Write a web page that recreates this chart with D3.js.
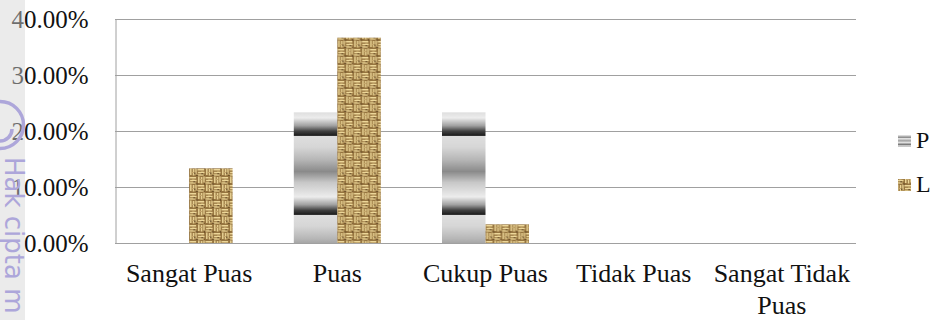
<!DOCTYPE html>
<html>
<head>
<meta charset="utf-8">
<script src="https://cdn.jsdelivr.net/npm/d3@7"></script>
<style>
  html, body { margin: 0; padding: 0; background: #fff; }
  svg { display: block; }
  .serif { font-family: "Liberation Serif", "Times New Roman", Tinos, "DejaVu Serif", serif; }
</style>
</head>
<body>
<svg id="chart" width="933" height="320"></svg>
<script>
// Survey satisfaction levels and share of respondents per group
const categories = ["Sangat Puas", "Puas", "Cukup Puas", "Tidak Puas", "Sangat Tidak Puas"];
const seriesNames = ["P", "L"];
const valuesP = [0, 0.2333, 0.2333, 0, 0];
const valuesL = [0.1333, 0.3667, 0.0333, 0, 0];
const yTicks = [0, 0.1, 0.2, 0.3, 0.4];

const svg = d3.select("#chart");
const W = 933, H = 320;
const plot = { left: 115, right: 856, top: 19, bottom: 243 };

svg.append("rect").attr("width", W).attr("height", H).attr("fill", "#fff");

const defs = svg.append("defs");

// Banded grey shading for series P (vertical gradient repeated every 79px)
const gradP = defs.append("linearGradient").attr("id", "gradP")
  .attr("x1", 0).attr("y1", 0).attr("x2", 0).attr("y2", 1);
[[0, "#dedede"], [0.14, "#d6d6d6"], [0.30, "#b6b6b6"], [0.45, "#8a8a8a"],
 [0.59, "#c8c8c8"], [0.77, "#ececec"], [0.87, "#a0a0a0"], [0.94, "#404040"],
 [0.985, "#222222"], [1, "#3a3a3a"]]
  .forEach(([o, c]) => gradP.append("stop").attr("offset", o).attr("stop-color", c));
const patP = defs.append("pattern").attr("id", "patP")
  .attr("patternUnits", "userSpaceOnUse")
  .attr("x", 0).attr("y", 57).attr("width", 50).attr("height", 79);
patP.append("rect").attr("width", 50).attr("height", 79).attr("fill", "url(#gradP)");

// Legend swatch for P: a few thin grey bands
const gradPL = defs.append("linearGradient").attr("id", "gradPL")
  .attr("x1", 0).attr("y1", 0).attr("x2", 0).attr("y2", 1);
[[0, "#f0f0f0"], [0.2, "#888"], [0.3, "#e8e8e8"], [0.5, "#999"], [0.6, "#eee"],
 [0.8, "#777"], [0.9, "#ddd"], [1, "#bbb"]]
  .forEach(([o, c]) => gradPL.append("stop").attr("offset", o).attr("stop-color", c));

// Burlap weave texture for series L
const patL = defs.append("pattern").attr("id", "patL")
  .attr("patternUnits", "userSpaceOnUse")
  .attr("x", 0).attr("y", 0).attr("width", 16).attr("height", 16);
patL.append("rect").attr("width", 16).attr("height", 16).attr("fill", "#96743f");
const thread = "#ecd698";
const weave = [
  // horizontal threads in top-left and bottom-right cells
  [0.5, 1, 6.5, 1.5], [1, 3.8, 6.5, 1.5], [0.5, 6.3, 6, 1.3],
  [8.5, 9, 6.5, 1.5], [9, 11.8, 6.5, 1.5], [8.5, 14.3, 6, 1.3],
  // vertical threads in top-right and bottom-left cells
  [9, 0.5, 1.5, 6.5], [11.8, 1, 1.5, 6.5], [14.3, 0.5, 1.3, 6],
  [1, 8.5, 1.5, 6.5], [3.8, 9, 1.5, 6.5], [6.3, 8.5, 1.3, 6]
];
weave.forEach(([x, y, w, h]) => patL.append("rect")
  .attr("x", x).attr("y", y).attr("width", w).attr("height", h).attr("fill", thread));
[[3, 2.6, "#cfb373"], [12, 10.6, "#cfb373"], [10.6, 3, "#c4a66a"], [2.6, 12, "#c4a66a"]]
  .forEach(([x, y, c]) => patL.append("rect").attr("x", x).attr("y", y)
    .attr("width", 2.5).attr("height", 1).attr("fill", c));
[[7.4, 7.4], [15.4, 15.2], [7.4, 15], [15, 7.4], [4.5, 5.2], [12.5, 13.1], [5.2, 12.6]]
  .forEach(([x, y]) => patL.append("rect").attr("x", x).attr("y", y)
    .attr("width", 1.2).attr("height", 1.2).attr("fill", "#4e361a"));

const softBlur = defs.append("filter").attr("id", "soft");
softBlur.append("feGaussianBlur").attr("stdDeviation", 0.35);

// Scales
const y = d3.scaleLinear().domain([0, 0.4]).range([plot.bottom, plot.top]);
const x0 = d3.scaleBand().domain(categories).range([plot.left, plot.right]).padding(0);
const groupW = 87;
const x1 = d3.scaleBand().domain(seriesNames).range([-groupW / 2, groupW / 2]).padding(0);

// Gridlines
svg.append("g").selectAll("line").data(yTicks).join("line")
  .attr("x1", plot.left).attr("x2", plot.right)
  .attr("y1", d => Math.round(y(d)) + 0.5).attr("y2", d => Math.round(y(d)) + 0.5)
  .attr("stroke", "#a0a0a0").attr("stroke-width", 1);

// Y axis (labels and left rule)
const yAxis = svg.append("g").attr("transform", `translate(${plot.left + 0.5},0)`)
  .call(d3.axisLeft(y).tickValues(yTicks).tickFormat(d3.format(".2%"))
    .tickSize(0).tickSizeOuter(0).tickPadding(27));
yAxis.attr("font-family", null).attr("font-size", null);
yAxis.select(".domain").attr("stroke", "#a0a0a0");
yAxis.selectAll("text").attr("class", "serif").style("font-size", "25px")
  .attr("fill", "#111").attr("dy", "0.34em");

// Bars
const rows = categories.map((c, i) => ({ cat: c, P: valuesP[i], L: valuesL[i] }));
const fills = { P: "url(#patP)", L: "url(#patL)" };
const groups = svg.append("g").selectAll("g").data(rows).join("g")
  .attr("transform", d => `translate(${x0(d.cat) + x0.bandwidth() / 2},0)`);
groups.selectAll("rect")
  .data(d => seriesNames.map(k => ({ key: k, value: d[k] })).filter(e => e.value > 0))
  .join("rect")
  .attr("x", d => x1(d.key))
  .attr("width", x1.bandwidth())
  .attr("y", d => y(d.value))
  .attr("height", d => y(0) - y(d.value))
  .attr("fill", d => fills[d.key])
  .attr("filter", d => d.key === "L" ? "url(#soft)" : null);

// Category labels, wrapped to the band width
const catLabels = svg.append("g").selectAll("text").data(categories).join("text")
  .attr("class", "serif")
  .attr("x", d => x0(d) + x0.bandwidth() / 2)
  .attr("y", 282)
  .attr("text-anchor", "middle")
  .style("font-size", "26px").attr("fill", "#111");
catLabels.each(function (d) {
  const t = d3.select(this);
  const words = d.split(" ");
  const maxW = x0.bandwidth() - 2;
  let line = [];
  let tspan = t.append("tspan").attr("x", t.attr("x")).attr("dy", 0);
  words.forEach(w => {
    line.push(w);
    tspan.text(line.join(" "));
    if (tspan.node().getComputedTextLength() > maxW && line.length > 1) {
      line.pop();
      tspan.text(line.join(" "));
      line = [w];
      tspan = t.append("tspan").attr("x", t.attr("x")).attr("dy", 32).text(w);
    }
  });
});

// Legend
const legend = svg.append("g");
const legendRows = [
  { key: "P", fill: "url(#gradPL)", y: 148 },
  { key: "L", fill: "url(#patL)", y: 192 }
];
legend.selectAll("rect").data(legendRows).join("rect")
  .attr("x", 898).attr("y", d => d.y - 13).attr("width", 13).attr("height", 12)
  .attr("fill", d => d.fill);
legend.selectAll("text").data(legendRows).join("text")
  .attr("class", "serif")
  .attr("x", 916).attr("y", d => d.y)
  .style("font-size", "24px").attr("fill", "#111")
  .text(d => d.key);

// Copyright margin stamp
svg.append("rect").attr("x", 0).attr("y", 0).attr("width", 25).attr("height", H)
  .attr("fill", "rgb(213,213,213)").attr("fill-opacity", 0.47);
const stamp = svg.append("g").attr("fill", "none").attr("stroke", "#ada6da");
stamp.append("circle").attr("cx", 0).attr("cy", 125).attr("r", 23.5).attr("stroke-width", 3.5);
stamp.append("path").attr("d", "M -12 121 A 12 12 0 0 1 12 121")
  .attr("transform", "rotate(180,0,125)")
  .attr("stroke-width", 3.5);
svg.append("text")
  .attr("transform", "translate(5,157) rotate(90)")
  .style("font-family", "'DejaVu Sans', sans-serif").style("font-size", "26px")
  .attr("fill", "#ada6da")
  .text("Hak cipta m");
</script>
</body>
</html>
